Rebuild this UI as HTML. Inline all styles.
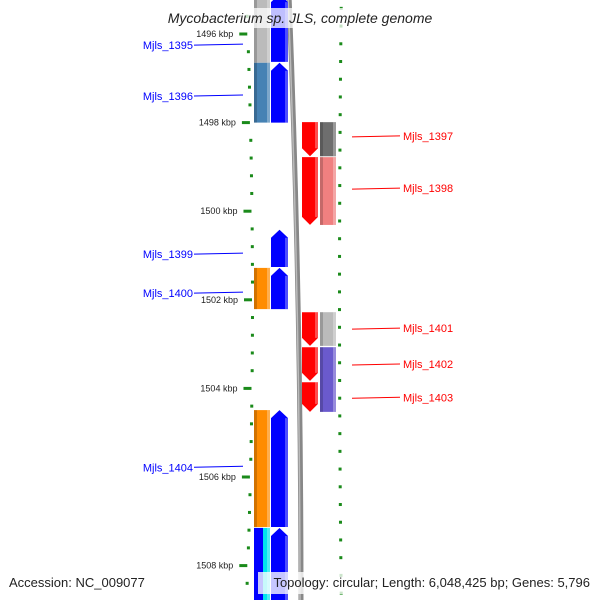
<!DOCTYPE html>
<html><head><meta charset="utf-8">
<style>
html,body{margin:0;padding:0;background:#fff;}
svg{display:block;font-family:"Liberation Sans",sans-serif;}
</style></head>
<body>
<svg id="map" width="600" height="600" viewBox="0 0 600 600" xmlns="http://www.w3.org/2000/svg"></svg>
<script>
// ---- data (kbp) ----
const majorTicksLeft = [1496,1498,1500,1502,1504,1506,1508];
const majorTickLabels = ["1496 kbp","1498 kbp","1500 kbp","1502 kbp","1504 kbp","1506 kbp","1508 kbp"];
// left outer column (x 254-270)
const colAStart = [1495.1,1496.65,1501.28,1504.49,1507.15];
const colAEnd   = [1496.65,1498.0,1502.21,1507.13,1508.9];
const colAColor = ["#bbbbbb","#4682b4","#ff8c00","#ff8c00","#00e5ee"];
// left forward CDS column (blue, arrow up)
const fwdStart = [1495.1,1496.65,1500.42,1501.28,1504.49,1507.15];
const fwdEnd   = [1496.63,1498.0,1501.26,1502.21,1507.13,1508.9];
// right reverse CDS column (red, arrow down)
const revStart = [1497.99,1498.78,1502.28,1503.07,1503.86];
const revEnd   = [1498.76,1500.31,1503.04,1503.83,1504.53];
// right outer column
const colDStart = [1497.99,1498.78,1502.28,1503.07];
const colDEnd   = [1498.76,1500.31,1503.04,1504.53];
const colDColor = ["#6e6e6e","#f08080","#bbbbbb","#6a5acd"];
// labels
const leftLabels = ["Mjls_1395","Mjls_1396","Mjls_1399","Mjls_1400","Mjls_1404"];
const leftLabelPos = [1496.25,1497.4,1500.97,1501.85,1505.78];
const rightLabels = ["Mjls_1397","Mjls_1398","Mjls_1401","Mjls_1402","Mjls_1403"];
const rightLabelPos = [1498.3,1499.48,1502.64,1503.45,1504.2];

// ---- axis ----
const y = k => 34 + (k-1496)*44.3;
const NS="http://www.w3.org/2000/svg";
const svg=document.getElementById('map');
function el(tag,attrs,parent){const e=document.createElementNS(NS,tag);for(const k in attrs)e.setAttribute(k,attrs[k]);(parent||svg).appendChild(e);return e;}
// slight curvature of map
const curve = yy => { const t=(yy-300)/300; return -6*t*t; };

// backbone
const bb=el('path',{d:`M289,-5 Q301,300 301,605`,stroke:'#888',"stroke-width":5,fill:'none'});


el('path',{d:`M288,-5 Q300,300 300,605`,stroke:'#bbb',"stroke-width":1.5,fill:'none'});

// ticks
for(let k=1495.2;k<=1509;k+=0.4){
  const kk=Math.round(k*10)/10; const yy=y(kk);
  if(yy<0||yy>600) continue;
  const major = Math.abs(kk-Math.round(kk))<0.01 && Math.round(kk)%2===0;
  const xl=252+curve(yy);
  const t=el('rect',{x:major?xl-8:xl-1,y:yy-1.5,width:major?8:3,height:3,fill:'#1a8a1a'});
  
  
}
for(let k=1495.1;k<=1509;k+=0.4){
  const kk=Math.round(k*10)/10; const yy=y(kk)-3.5;
  if(yy<0||yy>600) continue;
  const major = Math.abs((kk-1496)%2)<0.01 || Math.abs((kk-1496)%2-2)<0.01;
  const xr=338-curve(yy)*0.3;
  const t=el('rect',{x:xr,y:yy-1.5,width:major?8:3,height:3,fill:'#1a8a1a'});
  
  
}
majorTicksLeft.forEach((k,i)=>{
  const t=el('text',{x:238+curve(y(k)),y:y(k)+3,"text-anchor":'end',"font-size":9,fill:'#222'});
  t.textContent=majorTickLabels[i];
  
  
});

function box(x0,w,s,e,color,name){
  const r=el('rect',{x:x0,y:y(s),width:w,height:y(e)-y(s),fill:color});
  el('rect',{x:x0,y:y(s),width:3,height:y(e)-y(s),fill:'rgba(0,0,0,0.18)'});
  el('rect',{x:x0+w-3,y:y(s),width:3,height:y(e)-y(s),fill:'rgba(255,255,255,0.3)'});
  
  
}
colAStart.forEach((s,i)=>box(254,16,s,colAEnd[i],colAColor[i],'feature-outer-left'));
// cyan feature partially blue
{const s=colAStart[4],e=colAEnd[4];el('rect',{x:254,y:y(s),width:9,height:y(e)-y(s),fill:'#0000ff'});}
colDStart.forEach((s,i)=>box(320,16,s,colDEnd[i],colDColor[i],'feature-outer-right'));

function arrowUp(x0,w,s,e,color){
  const y0=y(s),y1=y(e),h=8;
  const p=el('path',{d:`M${x0},${y1} L${x0},${y0+h} L${x0+w/2},${y0} L${x0+w},${y0+h} L${x0+w},${y1} Z`,fill:color});
  el('path',{d:`M${x0+w-3},${y1} L${x0+w-3},${y0+h} L${x0+w},${y0+h} L${x0+w},${y1} Z`,fill:'rgba(255,255,255,0.3)'});
  
  
}
function arrowDown(x0,w,s,e,color){
  const y0=y(s),y1=y(e),h=8;
  const p=el('path',{d:`M${x0},${y0} L${x0+w},${y0} L${x0+w},${y1-h} L${x0+w/2},${y1} L${x0},${y1-h} Z`,fill:color});
  el('path',{d:`M${x0+w-3},${y0} L${x0+w},${y0} L${x0+w},${y1-h} L${x0+w-3},${y1-h} Z`,fill:'rgba(255,255,255,0.3)'});
  
  
}
fwdStart.forEach((s,i)=>arrowUp(271,17,s,fwdEnd[i],'#0000ff'));
revStart.forEach((s,i)=>arrowDown(302,16,s,revEnd[i],'#ff0000'));

// labels
leftLabels.forEach((t,i)=>{
  const yy=y(leftLabelPos[i]);
  const tx=el('text',{x:193,y:yy+4,"text-anchor":'end',"font-size":11,fill:'#0000ff'});
  tx.textContent=t;
  
  
  const w=t.length*6.2;
  el('line',{x1:194,y1:yy,x2:243,y2:yy-1,stroke:'#0000ff',"stroke-width":1});
});
rightLabels.forEach((t,i)=>{
  const yy=y(rightLabelPos[i]);
  const tx=el('text',{x:403,y:yy+4,"font-size":11,fill:'#ff0000'});
  tx.textContent=t;
  
  
  el('line',{x1:352,y1:yy+1,x2:400,y2:yy,stroke:'#ff0000',"stroke-width":1});
});

// title band
el('rect',{x:150,y:8,width:300,height:20,fill:'rgba(255,255,255,0.75)'});
const title=el('text',{x:300,y:23,"text-anchor":'middle',"font-size":14,"font-style":'italic',fill:'#222'});
title.textContent='Mycobacterium sp. JLS, complete genome';



// bottom legend
el('rect',{x:258,y:572,width:342,height:22,fill:'rgba(255,255,255,0.78)'});
const acc=el('text',{x:9,y:587,"font-size":13,fill:'#222'});
acc.textContent='Accession: NC_009077';


const topo=el('text',{x:590,y:587,"text-anchor":'end',"font-size":13,fill:'#222'});
topo.textContent='Topology: circular; Length: 6,048,425 bp; Genes: 5,796';


</script>
</body></html>
